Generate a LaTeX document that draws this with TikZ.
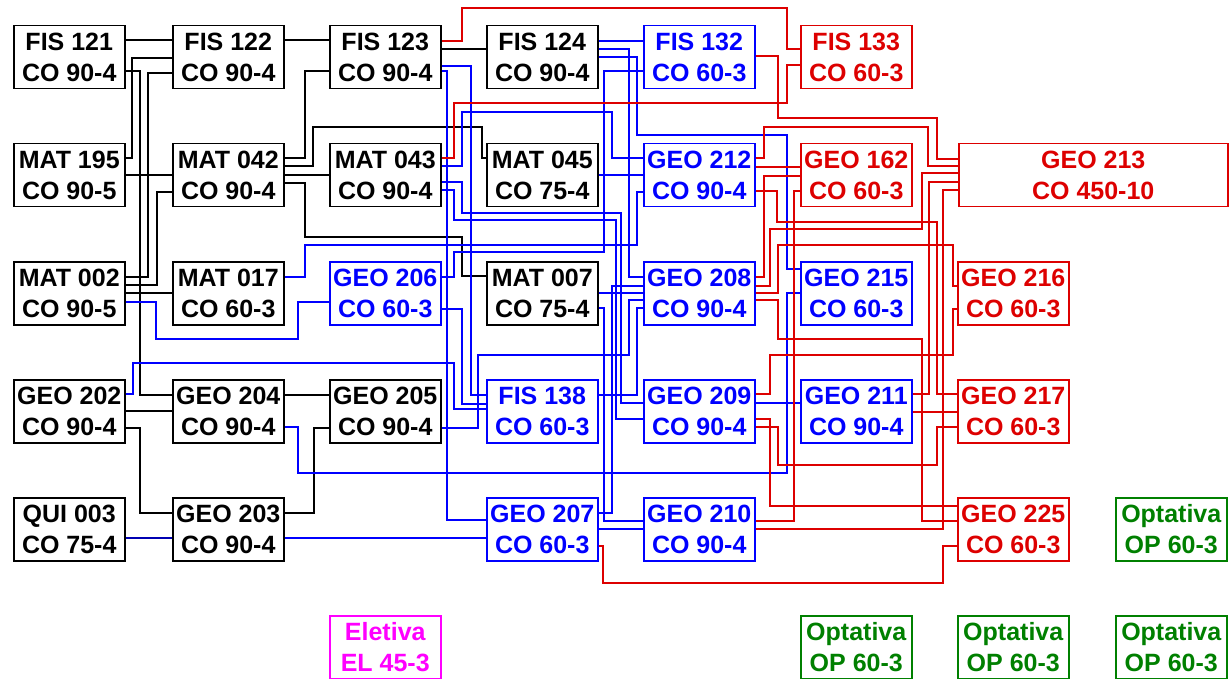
\documentclass[tikz,border=0pt]{standalone}
\usepackage{fontspec}
\setmainfont{Liberation Sans}
\usepackage{tikz}

\definecolor{cred}{RGB}{221,0,0}
\definecolor{cblue}{RGB}{0,0,255}
\definecolor{cgreen}{RGB}{0,128,0}
\definecolor{cpink}{RGB}{255,0,255}

\tikzset{
  course/.style={draw, line width=1.5pt, anchor=north west, minimum width=111pt, minimum height=63pt,
    inner sep=0pt, align=center, font=\bfseries\fontsize{25}{31}\selectfont},
  wk/.style={line width=1.5pt, black},
  wb/.style={line width=1.5pt, cblue},
  wr/.style={line width=1.5pt, cred},
}

% wire from the right side of one course to the left side of another
\newcommand{\wire}[6][]{%
  \coordinate (w1) at ([yshift=-#3 pt]#2.north east);
  \coordinate (w2) at ([yshift=-#6 pt]#5.north west);
  \draw[#1] (w1) -| (#4,0 |- w2) -- (w2);}
\newcommand{\wirez}[8][]{%
  \coordinate (w1) at ([yshift=-#3 pt]#2.north east);
  \coordinate (w2) at ([yshift=-#8 pt]#7.north west);
  \draw[#1] (w1) -| (#4,#5) -| (#6,0 |- w2) -- (w2);}

\begin{document}
\begin{tikzpicture}[x=1pt,y=-1pt]
    \useasboundingbox (0,0) rectangle (1229,679);

    % First column block (black)
    \node[course] (fis121) at (13,25) {FIS 121\\CO 90-4};
    \node[course] (fis122) at (172,25) {FIS 122\\CO 90-4};
    \node[course] (fis123) at (329,25) {FIS 123\\CO 90-4};
    \node[course] (fis124) at (486,25) {FIS 124\\CO 90-4};
    \node[course] (mat195) at (13,143) {MAT 195\\CO 90-5};
    \node[course] (mat042) at (172,143) {MAT 042\\CO 90-4};
    \node[course] (mat043) at (329,143) {MAT 043\\CO 90-4};
    \node[course] (mat045) at (486,143) {MAT 045\\CO 75-4};
    \node[course] (mat002) at (13,261) {MAT 002\\CO 90-5};
    \node[course] (mat017) at (172,261) {MAT 017\\CO 60-3};
    \node[course] (mat007) at (486,261) {MAT 007\\CO 75-4};
    \node[course] (geo202) at (13,379) {GEO 202\\CO 90-4};
    \node[course] (geo204) at (172,379) {GEO 204\\CO 90-4};
    \node[course] (geo205) at (329,379) {GEO 205\\CO 90-4};
    \node[course] (qui003) at (13,497) {QUI 003\\CO 75-4};
    \node[course] (geo203) at (172,497) {GEO 203\\CO 90-4};

    % Blue courses
    \node[course, cblue] (fis132) at (643,25) {FIS 132\\CO 60-3};
    \node[course, cblue] (geo212) at (643,143) {GEO 212\\CO 90-4};
    \node[course, cblue] (geo206) at (329,261) {GEO 206\\CO 60-3};
    \node[course, cblue] (geo208) at (643,261) {GEO 208\\CO 90-4};
    \node[course, cblue] (geo215) at (800,261) {GEO 215\\CO 60-3};
    \node[course, cblue] (fis138) at (486,379) {FIS 138\\CO 60-3};
    \node[course, cblue] (geo209) at (643,379) {GEO 209\\CO 90-4};
    \node[course, cblue] (geo211) at (800,379) {GEO 211\\CO 90-4};
    \node[course, cblue] (geo207) at (486,497) {GEO 207\\CO 60-3};
    \node[course, cblue] (geo210) at (643,497) {GEO 210\\CO 90-4};

    % Red courses
    \node[course, cred] (fis133) at (800,25) {FIS 133\\CO 60-3};
    \node[course, cred] (geo162) at (800,143) {GEO 162\\CO 60-3};
    \node[course, cred, minimum width=269pt] (geo213) at (958,143) {GEO 213\\CO 450-10};
    \node[course, cred] (geo216) at (957,261) {GEO 216\\CO 60-3};
    \node[course, cred] (geo217) at (957,379) {GEO 217\\CO 60-3};
    \node[course, cred] (geo225) at (957,497) {GEO 225\\CO 60-3};

    % Optional and elective slots
    \node[course, cgreen] (opt1) at (1115,497) {Optativa\\OP 60-3};
    \node[course, cgreen] (opt2) at (800,615) {Optativa\\OP 60-3};
    \node[course, cgreen] (opt3) at (957,615) {Optativa\\OP 60-3};
    \node[course, cgreen] (opt4) at (1115,615) {Optativa\\OP 60-3};
    \node[course, cpink] (eletiva) at (329,615) {Eletiva\\EL 45-3};

    % Black prerequisites
    \foreach \s/\a/\x/\t/\b in {fis121/15/150/fis122/15, fis122/15/300/fis123/15, fis123/24/460/fis124/24,
        mat195/15/132/fis122/33, mat195/32/150/mat042/32, mat002/16/148/fis122/48, mat002/24/157/mat042/49,
        mat002/32/150/mat017/32, fis121/46/140/geo204/16, geo202/32/150/geo204/32, geo202/49/140/geo203/16,
        geo204/16/300/geo205/16, geo203/16/314/geo205/49, mat042/15/305/fis123/46, mat042/32/300/mat043/32}
      {\wire[wk]{\s}{\a}{\x}{\t}{\b}}
    \wirez[wk]{mat042}{23}{313}{127}{482}{mat045}{15}
    \wirez[wk]{mat042}{40}{305}{237}{462}{mat007}{15}

    % Blue prerequisites
    \foreach \s/\a/\x/\t/\b in {fis124/16/620/fis132/16, mat045/32/620/geo212/32, fis124/24/629/geo208/16,
        geo207/16/612/geo208/25, mat007/32/620/geo208/32, fis138/16/637/geo208/47, geo206/48/462/fis138/25,
        fis123/41/471/fis138/16, fis123/46/447/geo207/23, geo203/41/400/geo207/41, mat007/47/604/geo210/24,
        geo207/32/620/geo210/32, geo209/24/780/geo211/24}
      {\wire[wb]{\s}{\a}{\x}{\t}{\b}}
    \wire[wb, blue!70!black]{qui003}{41}{150}{geo203}{41}
    \wirez[wb]{geo206}{16}{454}{252}{604}{fis132}{46}
    \wirez[wb]{mat043}{23}{462}{112}{612}{geo212}{15}
    \wirez[wb]{mat017}{16}{305}{245}{637}{geo212}{49}
    \wirez[wb]{geo205}{49}{478}{355}{629}{geo208}{39}
    \wirez[wb]{mat043}{39}{462}{213}{621}{geo209}{24}
    \wirez[wb]{mat043}{47}{454}{220}{616}{geo209}{40}
    \wirez[wb]{geo202}{15}{133}{363}{454}{fis138}{30}
    \wirez[wb]{mat002}{41}{156}{339}{298}{geo206}{41}
    \wirez[wb]{fis124}{32}{637}{135}{787}{geo215}{8}
    \wirez[wb]{geo204}{48}{298}{473}{787}{geo215}{32}

    % Red prerequisites
    \foreach \s/\a/\x/\t/\b in {geo212/24/780/geo162/24, geo208/16/764/geo162/33, geo210/24/794/geo162/48,
        geo211/15/929/geo213/39, geo211/33/940/geo217/33, geo210/32/943/geo213/47, geo209/40/770/geo225/9}
      {\wire[wr]{\s}{\a}{\x}{\t}{\b}}
    \wirez[wr]{fis123}{16}{462}{8}{787}{fis133}{24}
    \wirez[wr]{mat043}{15}{454}{103}{787}{fis133}{40}
    \wirez[wr]{fis132}{31}{778}{118}{937}{geo213}{16}
    \wirez[wr]{geo212}{15}{764}{127}{928}{geo213}{23}
    \wirez[wr]{geo212}{48}{777}{222}{937}{geo217}{15}
    \wirez[wr]{geo208}{25}{770}{229}{922}{geo213}{30}
    \wirez[wr]{geo208}{39}{778}{339}{922}{geo225}{24}
    \wirez[wr]{geo208}{32}{778}{245}{953}{geo216}{25}
    \wirez[wr]{geo209}{15}{770}{355}{953}{geo216}{48}
    \wirez[wr]{geo209}{48}{778}{465}{937}{geo217}{48}
    \wirez[wr]{geo207}{49}{603}{583}{943}{geo225}{49}
\end{tikzpicture}
\end{document}
